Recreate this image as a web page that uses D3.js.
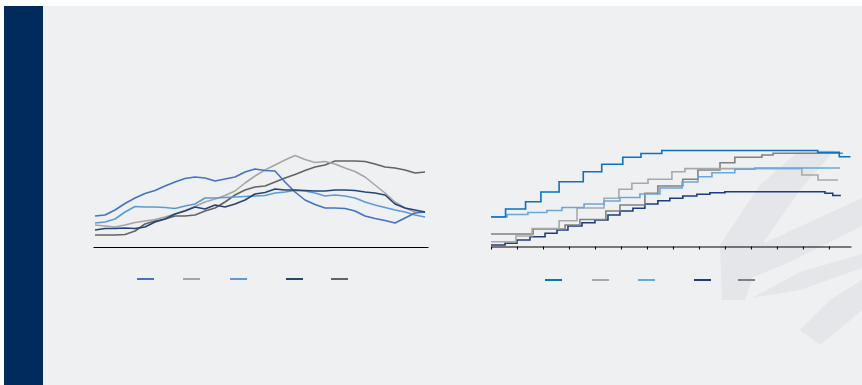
<!DOCTYPE html>
<html>
<head>
<meta charset="utf-8">
<script src="https://cdn.jsdelivr.net/npm/d3@7"></script>
<style>
  html, body { margin: 0; padding: 0; background: #fff; }
  svg { display: block; }
</style>
</head>
<body>
<div id="chart"></div>
<script>
// left panel : monthly index, 34 points
var leftIdx = d3.range(34);
var leftA = [31,32,37,43.5,49,53.5,56.5,61,65,68.5,70,69,66,68,70,75,78,76.5,76,65,55,47,42.5,39,39,38.5,36,31,28.5,26.5,24,29,34,35];
var leftB = [22,21,20,22,24.5,26,27.5,30,33,36.5,40.5,45,48,51.5,56,64,71,77,82,87,91.5,87.5,84.5,85.5,83,79,75.5,70,62,54,45,39,35,35];
var leftC = [24,25,28,35,40.5,40,40,39.5,38.5,41,43,49,49,49.5,50,50.5,51,51.5,54,55,56.5,56,54,51,52,51,49,45,42,39.5,37,35,32,30];
var leftD = [17,18.5,18.5,19,18.5,20,25,28,33,36,40,38,42,40,43,47,53,54.5,58,57,57,56.5,56,56,57,57,56.5,55,54,52,43,39,37,35];
var leftE = [12,12,12,12.5,16,23,26,28,31,31,32,36,39,45,52,57,60,61,65,69,72.5,76.5,80,82,86,86,86,85.5,83,80,79,77,74,75];

// right panel : step series, [period, value] at each change
var rightTicks = d3.range(14);
var rightA = [[0,30],[0.56,38],[1.33,45.3],[1.92,55],[2.62,65.3],[3.55,75.3],[4.26,82.7],[5.07,89.7],[5.77,93.5],[6.57,96.5],[12.57,94.7],[13.4,90.3],[13.83,90.3]];
var rightB = [[0,5.3],[0.96,11],[1.58,18.5],[2.62,26.3],[3.31,39],[4.35,48.7],[4.92,57.7],[5.42,63.7],[6.04,67.7],[6.96,75.3],[7.46,78.4],[11.96,72],[12.58,67],[13.35,67]];
var rightC = [[0,30.3],[0.62,32.5],[1.42,34.5],[2.15,36.5],[2.73,39.5],[3.58,43],[4.35,46],[4.96,49.5],[5.73,53],[6.5,59],[7.35,65],[7.96,70.3],[8.5,74.3],[9.38,77.7],[10.15,79],[13.42,79]];
var rightD = [[0,2],[0.54,3.7],[1,7],[1.5,10.3],[2.08,13.7],[2.54,17],[2.96,21],[3.5,24.3],[4,27],[4.5,32],[4.96,36],[5.46,38.7],[5.92,43],[6.42,46.3],[6.88,48.7],[7.38,51],[7.92,52.7],[8.42,54.3],[9,55.3],[12.85,53.7],[13.15,51.5],[13.46,51.5]];
var rightE = [[0,13],[1.62,18],[2.85,22],[3.42,27.5],[4.42,36],[4.96,42],[5.92,53.7],[6.42,61],[7.38,67.7],[7.96,77],[8.81,84.3],[9.38,89.7],[10.42,92],[10.85,93.7],[13.54,93.7]];

var leftColors = ['#4472c4', '#a5a5a5', '#5b9bd5', '#264478', '#636363'];
var rightColors = ['#0a72c2', '#a8a8a8', '#6aa6dc', '#1f3c7c', '#808080'];

var W = 862, H = 385;
var svg = d3.select('#chart').append('svg')
  .attr('width', W)
  .attr('height', H);

// ============== Frame ==============
svg.append('rect').attr('x', 0).attr('y', 0).attr('width', W).attr('height', H).attr('fill', '#fff');
svg.append('rect').attr('x', 43).attr('y', 6).attr('width', W - 43).attr('height', H - 6).attr('fill', '#eff0f2');
svg.append('rect').attr('x', 4).attr('y', 6).attr('width', 39).attr('height', H - 6).attr('fill', '#002b5c');

// watermark in the bottom right corner
var mark = svg.append('g').attr('fill', '#e5e6e9');
mark.append('path').attr('d', 'M722,300 L720,245 L760,185 L800,150 L835,150 L800,190 L765,240 L745,300 Z');
mark.append('path').attr('d', 'M735,285 L760,245 L862,198 L862,226 L790,262 Z');
mark.append('path').attr('d', 'M752,298 L800,272 L862,254 L862,268 L800,290 Z');
mark.append('path').attr('d', 'M800,330 L820,345 L862,310 L862,280 L830,300 Z');

// ============== Left chart ==============
var xL = d3.scaleLinear().domain([-0.2, 33.3]).range([93, 428]);
var yL = d3.scaleLinear().domain([0, 100]).range([247, 147]);

svg.append('g')
  .attr('transform', 'translate(0,' + yL(0) + ')')
  .call(d3.axisBottom(xL).ticks(0).tickSizeOuter(0))
  .call(function(g){ g.select('.domain').attr('stroke', '#000'); });

var lineL = d3.line()
  .x(function(d, i){ return xL(leftIdx[i]); })
  .y(function(d){ return yL(d); });

[leftE, leftB, leftC, leftA, leftD].forEach(function(s){
  var k = [leftA, leftB, leftC, leftD, leftE].indexOf(s);
  svg.append('path')
    .datum(s)
    .attr('d', lineL)
    .attr('fill', 'none')
    .attr('stroke', leftColors[k])
    .attr('stroke-width', 1.6)
    .attr('stroke-linejoin', 'round');
});

var legL = [137, 183, 230, 286, 331];
legL.forEach(function(x, i){
  svg.append('line')
    .attr('x1', x).attr('x2', x + 17)
    .attr('y1', 279).attr('y2', 279)
    .attr('stroke', leftColors[i])
    .attr('stroke-width', 2);
});

// ============== Right chart ==============
var xR = d3.scaleLinear().domain([0, 13.85]).range([491, 851]);
var yR = d3.scaleLinear().domain([0, 100]).range([247, 147]);

svg.append('g')
  .attr('transform', 'translate(0,246.5)')
  .call(d3.axisBottom(xR).tickValues(rightTicks).tickSize(3).tickSizeOuter(0).tickFormat(''))
  .call(function(g){
    g.select('.domain').attr('stroke', '#000');
    g.selectAll('.tick line').attr('stroke', '#000');
  });

var lineR = d3.line()
  .curve(d3.curveStepAfter)
  .x(function(d){ return xR(d[0]); })
  .y(function(d){ return yR(d[1]); });

var rightSeries = [rightA, rightB, rightC, rightD, rightE];
[3, 4, 1, 2, 0].forEach(function(k){
  svg.append('path')
    .datum(rightSeries[k])
    .attr('d', lineR)
    .attr('fill', 'none')
    .attr('stroke', rightColors[k])
    .attr('stroke-width', 1.6);
});

var legR = [545, 592, 638, 694, 738];
legR.forEach(function(x, i){
  svg.append('line')
    .attr('x1', x).attr('x2', x + 17)
    .attr('y1', 280).attr('y2', 280)
    .attr('stroke', rightColors[i])
    .attr('stroke-width', 2);
});
</script>
</body>
</html>
